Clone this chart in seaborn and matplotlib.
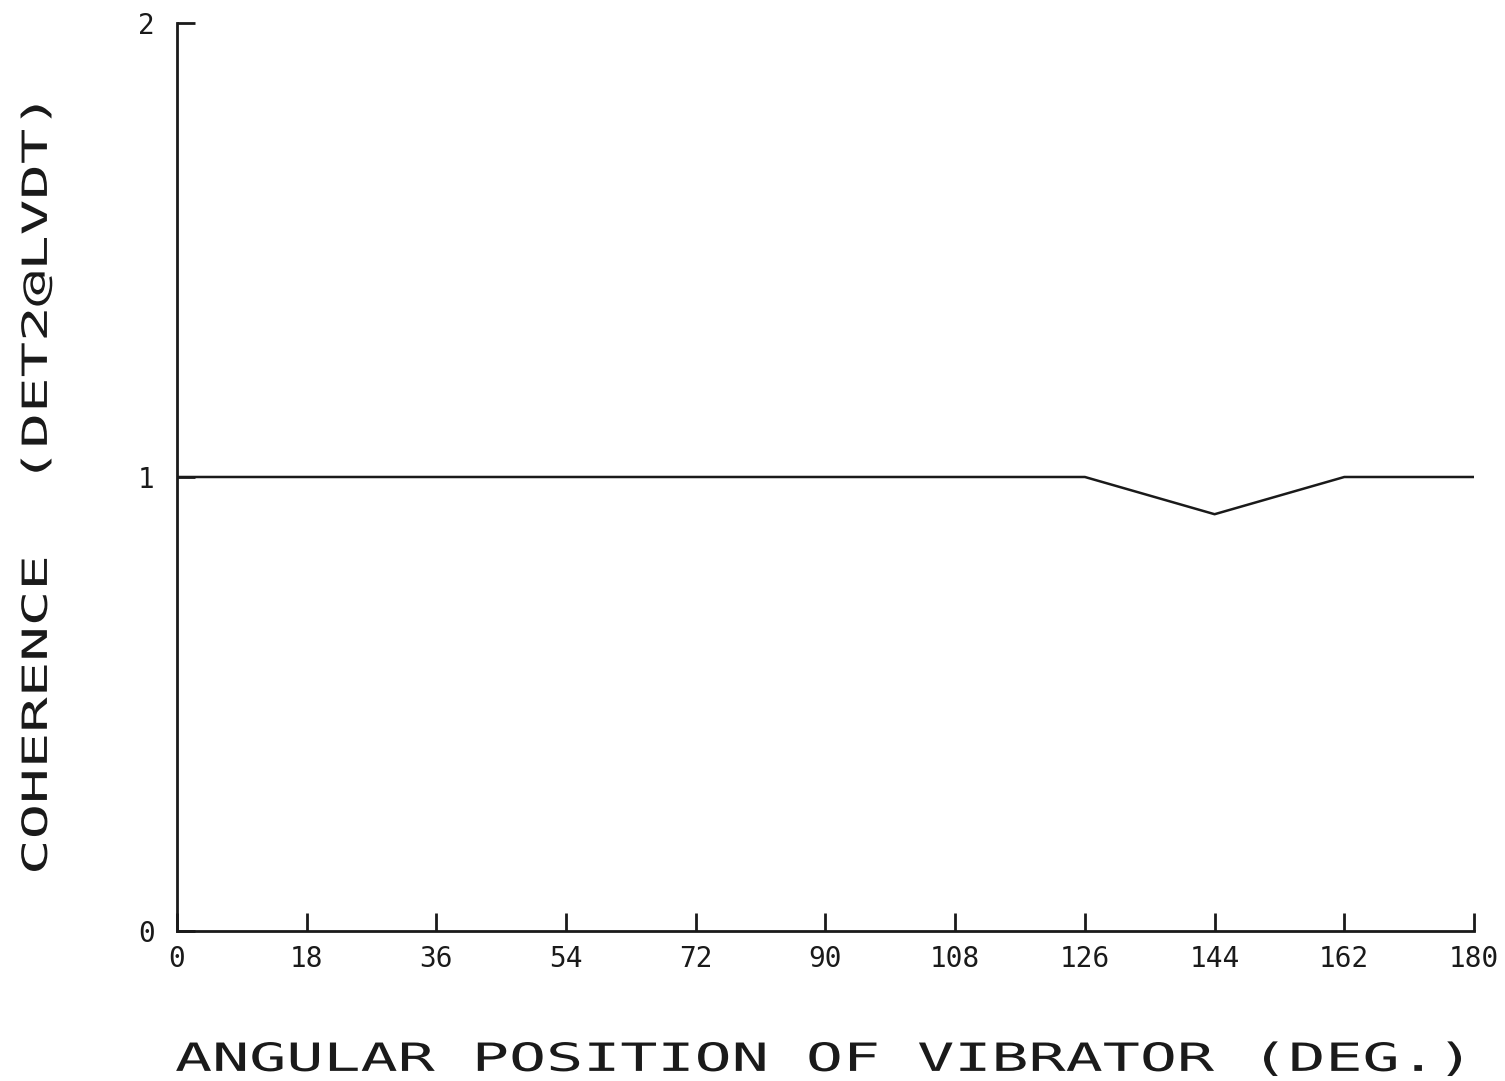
import matplotlib
matplotlib.use("Agg")
import matplotlib.pyplot as plt
import seaborn as sns
import pandas as pd
from matplotlib.patheffects import AbstractPathEffect
from matplotlib.transforms import Affine2D

# Data
angle_deg = [0, 18, 36, 54, 72, 90, 108, 126, 144, 162, 180]
coherence = [1.0, 1.0, 1.0, 1.0, 1.0, 1.0, 1.0, 1.0, 0.918, 1.0, 1.0]
x_ticks = [0, 18, 36, 54, 72, 90, 108, 126, 144, 162, 180]
y_ticks = [0, 1, 2]

x_label = "ANGULAR POSITION OF VIBRATOR (DEG.)"
y_label = "COHERENCE  (DET2@LVDT)"


class Stretch(AbstractPathEffect):
    """Stretch glyphs along the text direction (plotter-style wide lettering)."""

    def __init__(self, sx):
        super().__init__()
        self.sx = sx

    def draw_path(self, renderer, gc, tpath, affine, rgbFace=None):
        ext = tpath.get_extents()
        cx = 0.5 * (ext.x0 + ext.x1)
        t = Affine2D().translate(-cx, 0).scale(self.sx, 1.0).translate(cx, 0) + affine
        renderer.draw_path(gc, tpath, t, rgbFace)


sns.set_style("ticks")
plt.rcParams["font.family"] = ["DejaVu Sans Mono", "DejaVu Sans"]

df = pd.DataFrame({"angle": angle_deg, "coherence": coherence})

fig = plt.figure(figsize=(15.05, 10.81), dpi=100)
ax = fig.add_axes([0.1176, 0.1388, 0.9794 - 0.1176, 0.9787 - 0.1388])

ink = "#1a1a1a"
sns.lineplot(data=df, x="angle", y="coherence", ax=ax, color=ink, linewidth=1.8)

ax.set_xlim(0, 180)
ax.set_ylim(0, 2)
ax.set_xticks(x_ticks)
ax.set_xticklabels([str(v) for v in x_ticks])
ax.set_yticks(y_ticks)
ax.set_yticklabels([str(v) for v in y_ticks])

for side in ["top", "right"]:
    ax.spines[side].set_visible(False)
for side in ["left", "bottom"]:
    ax.spines[side].set_linewidth(2.0)
    ax.spines[side].set_color(ink)

ax.tick_params(axis="both", direction="in", length=13, width=2.0,
               colors=ink, labelsize=20)
ax.tick_params(axis="x", pad=10)
ax.tick_params(axis="y", pad=16)

ax.set_xlabel(x_label, fontsize=28, color=ink)
ax.xaxis.label.set_va("center")
ax.xaxis.set_label_coords(0.497, -0.142)
ax.xaxis.label.set_path_effects([Stretch(1.585)])

ax.set_ylabel(y_label, fontsize=25, color=ink)
ax.yaxis.label.set_va("center")
ax.yaxis.set_label_coords(-0.108, 0.49)
ax.yaxis.label.set_path_effects([Stretch(1.7)])

fig.savefig("out.png", dpi=100, facecolor="white")
